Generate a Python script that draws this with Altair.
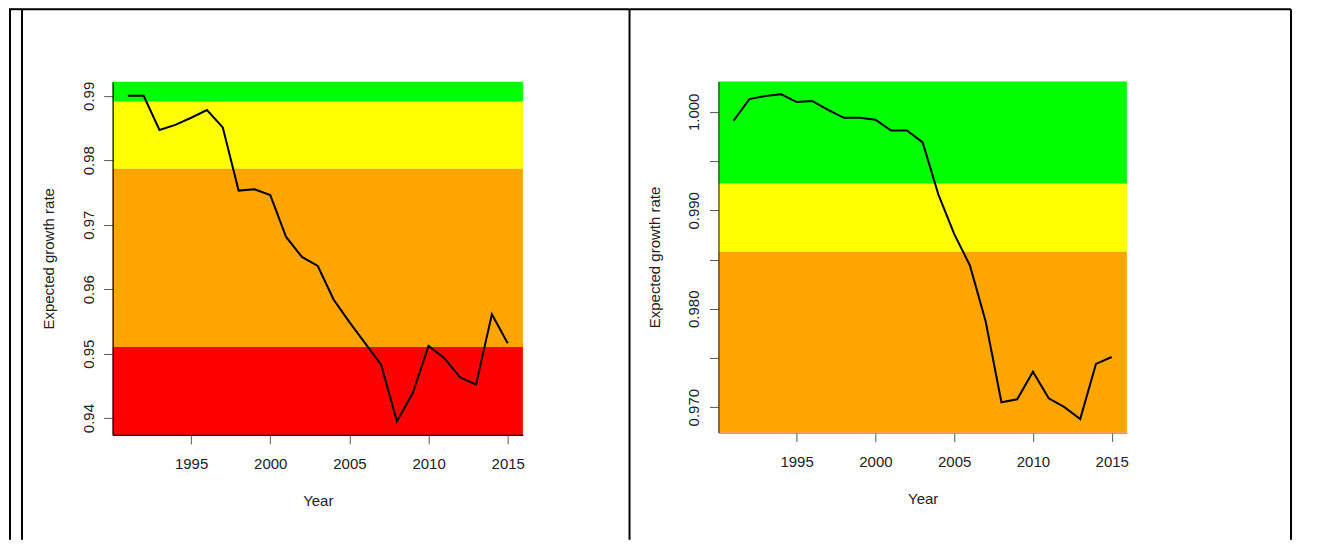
import altair as alt
import pandas as pd

# ---------------- data ----------------
years = list(range(1991, 2016))

left_values = [0.9900, 0.9900, 0.9847, 0.9855, 0.9866, 0.9878, 0.9851, 0.9753, 0.9755,
               0.9746, 0.9681, 0.9650, 0.9636, 0.9584, 0.9549, 0.9516, 0.9483, 0.9395,
               0.9439, 0.9512, 0.9493, 0.9463, 0.9452, 0.9561, 0.9516]

right_values = [0.9991, 1.0013, 1.0016, 1.0018, 1.0010, 1.0011, 1.0002, 0.9994, 0.9994,
                0.9992, 0.9981, 0.9981, 0.9969, 0.9916, 0.9876, 0.9844, 0.9787, 0.9705,
                0.9708, 0.9736, 0.9709, 0.9700, 0.9688, 0.9744, 0.9751]

x_domain = [1990.04, 2015.96]
x_ticks = [1995, 2000, 2005, 2010, 2015]

left_y_domain = [0.93740, 0.99217]
left_band_lo = [0.98907, 0.97868, 0.95104, 0.93740]
left_band_hi = [0.99217, 0.98907, 0.97868, 0.95104]
left_band_colors = ["#00FF00", "#FFFF00", "#FFA500", "#FF0000"]
left_y_ticks = [0.94, 0.95, 0.96, 0.97, 0.98, 0.99]

right_y_domain = [0.96742, 1.00309]
right_band_lo = [0.99269, 0.98580, 0.96742]
right_band_hi = [1.00309, 0.99269, 0.98580]
right_band_colors = ["#00FF00", "#FFFF00", "#FFA500"]
right_y_ticks = [0.970, 0.975, 0.980, 0.985, 0.990, 0.995, 1.000]
right_y_labelled = ["0.970", "0.980", "0.990", "1.000"]

# ---------------- layout ----------------
H = 532
FONT = "Liberation Sans"
TXT = "#222222"
TICK = "#555555"


def frame(width, left_x=0, top=True):
    one = alt.Data(values=[{"k": 1}])
    layers = [alt.Chart(one).mark_rule(color="black", strokeWidth=2).encode(
        x=alt.value(left_x), y=alt.value(1), y2=alt.value(H))]
    if top:
        layers.append(alt.Chart(one).mark_rule(color="black", strokeWidth=2).encode(
            x=alt.value(0), x2=alt.value(width), y=alt.value(1)))
    return layers


def panel(vals, ydom, lo, hi, cols, yticks, yfmt, cell_w, xr, yr,
          ydomain_color, xdomain_color, labelled=None):
    line_df = pd.DataFrame({"Year": years, "rate": vals})
    n = len(lo)
    band_df = pd.DataFrame({"x0": [x_domain[0]] * n, "x1": [x_domain[1]] * n,
                            "lo": lo, "hi": hi, "col": cols})
    xs = alt.Scale(domain=x_domain, range=xr, nice=False, zero=False)
    ys = alt.Scale(domain=ydom, range=yr, nice=False, zero=False)
    xaxis = alt.Axis(values=x_ticks, format="d", orient="bottom", offset=-(H - yr[0]),
                     grid=False, tickSize=9, tickColor=TICK, tickWidth=1,
                     domainColor=xdomain_color, domainWidth=1.2,
                     labelFont=FONT, labelFontSize=15, labelColor=TXT,
                     labelBaseline="alphabetic", labelAlign="center", labelPadding=24.6,
                     labelFlush=False, labelOverlap=False,
                     title="Year", titleFont=FONT, titleFontSize=15, titleFontWeight="normal",
                     titleColor=TXT, titleX=(xr[0] + xr[1]) / 2, titleY=71,
                     titleBaseline="alphabetic", titleAlign="center", zindex=1)
    yargs = dict(values=yticks, format=yfmt, orient="left", offset=-xr[0],
                 grid=False, tickSize=9, tickColor=TICK, tickWidth=1,
                 domainColor=ydomain_color, domainWidth=1.2,
                 labelFont=FONT, labelFontSize=15, labelColor=TXT,
                 labelAngle=270, labelAlign="center", labelBaseline="alphabetic",
                 labelPadding=10.5, labelFlush=False, labelOverlap=False,
                 title="Expected growth rate", titleFont=FONT, titleFontSize=15,
                 titleFontWeight="normal", titleColor=TXT, titleAngle=270,
                 titleX=-59.4, titleY=(yr[0] + yr[1]) / 2,
                 titleBaseline="alphabetic", titleAlign="center", zindex=1)
    if labelled is not None:
        arr = ",".join("'%s'" % s for s in labelled)
        yargs["labelExpr"] = "indexof([%s], datum.label) >= 0 ? datum.label : ''" % arr
    yaxis = alt.Axis(**yargs)

    bands = alt.Chart(band_df).mark_rect().encode(
        x=alt.X("x0:Q", scale=xs, axis=xaxis),
        x2="x1",
        y=alt.Y("lo:Q", scale=ys, axis=yaxis),
        y2="hi",
        color=alt.Color("col:N", scale=None),
    )
    line = alt.Chart(line_df).mark_line(color="black", strokeWidth=2).encode(
        x=alt.X("Year:Q", scale=xs, axis=xaxis),
        y=alt.Y("rate:Q", scale=ys, axis=yaxis),
    )
    return alt.layer(bands, line, *frame(cell_w)).properties(width=cell_w, height=H)


cell1 = alt.layer(*frame(13, left_x=1)).properties(width=13, height=H)
cell2 = panel(left_values, left_y_domain, left_band_lo, left_band_hi, left_band_colors,
              left_y_ticks, ".2f", 608, [90.7, 501.3], [427.0, 73.7], "black", "black")
cell3 = panel(right_values, right_y_domain, right_band_lo, right_band_hi, right_band_colors,
              right_y_ticks, ".3f", 662, [89.0, 497.7], [424.7, 73.3], "#333333", "#FF6347",
              labelled=right_y_labelled)
cell4 = alt.layer(*frame(23, left_x=0, top=False)).properties(width=23, height=H)

chart = alt.hconcat(cell1, cell2, cell3, cell4, spacing=0, bounds="flush").properties(
    padding=0, background="white"
).configure_view(stroke=None)

chart.save("out.html", embed_options={"renderer": "svg", "actions": False})
